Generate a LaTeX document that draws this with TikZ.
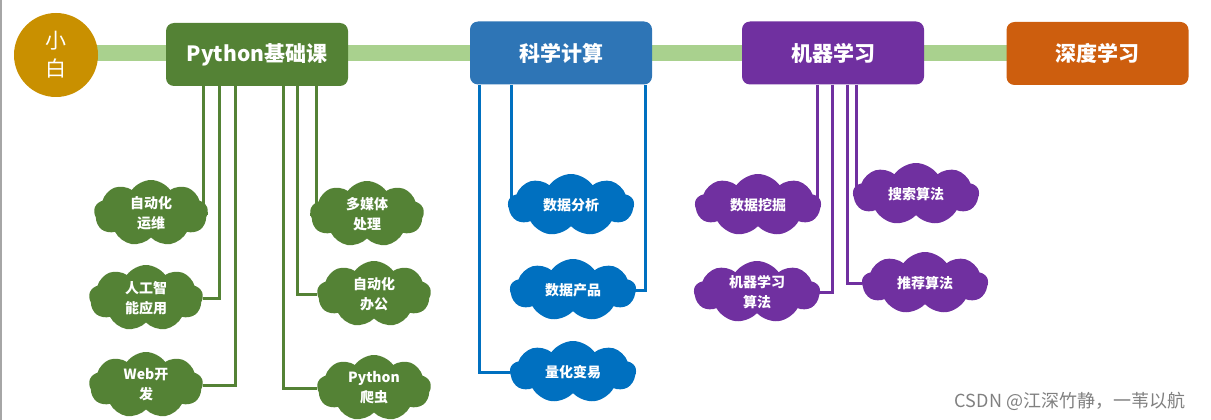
\documentclass[tikz,border=0pt]{standalone}
\usepackage{fontspec}
\setmainfont{Noto Sans CJK SC}
\usetikzlibrary{shapes}
\usetikzlibrary{shapes.symbols}
\usetikzlibrary{backgrounds}
\definecolor{c_gold}{RGB}{201,144,0}
\definecolor{c_bar}{RGB}{169,209,142}
\definecolor{c_green}{RGB}{84,130,53}
\definecolor{c_blue}{RGB}{46,117,182}
\definecolor{c_cblue}{RGB}{0,112,192}
\definecolor{c_purple}{RGB}{112,48,160}
\definecolor{c_orange}{RGB}{205,94,14}
\tikzset{
	basenode/.style = {
		align=center,
		inner sep=0pt,
		text=white
	},
	node_start/.style = {
		basenode,
		circle,
		fill=c_gold,
		minimum size=84pt,
		font=\fontsize{21}{28}\selectfont
	},
	node_main/.style = {
		basenode,
		rectangle,
		rounded corners=8pt,
		minimum width=182pt,
		minimum height=63pt,
		font=\bfseries\fontsize{21}{24}\selectfont
	},
	node_cloud/.style = {
		basenode,
		cloud,
		cloud puffs=9,
		cloud puff arc=110,
		cloud ignores aspect,
		minimum width=114pt,
		minimum height=66pt,
		font=\bfseries\fontsize{14}{20}\selectfont
	},
	node_cloud_g/.style = {
		node_cloud,
		fill=c_green
	},
	node_cloud_b/.style = {
		node_cloud,
		fill=c_cblue,
		minimum width=126pt,
		minimum height=62pt
	},
	node_cloud_p/.style = {
		node_cloud,
		fill=c_purple,
		minimum width=126pt,
		minimum height=62pt
	},
	line_g/.style = {draw=c_green, line width=3pt},
	line_b/.style = {draw=c_cblue, line width=3pt},
	line_p/.style = {draw=c_purple, line width=3pt},
	bar/.style = {draw=c_bar, line width=16pt}
}
\begin{document}
\begin{tikzpicture}[x=1pt, y=-1pt]
\useasboundingbox (0,0) rectangle (1211,420);
\draw[gray!70, line width=2pt] (1,0) -- (1,420);
\node [node_start] (xb) at (56,55) {小\\白};
\node [node_main, fill=c_green] (py) at (257,54.5) {Python基础课};
\node [node_main, fill=c_blue] (kx) at (561,53) {科学计算};
\node [node_main, fill=c_purple] (jq) at (833,53) {机器学习};
\node [node_main, fill=c_orange] (sd) at (1097.5,53.5) {深度学习};

\node [node_cloud_g] (c_yw) at (151,213) {自动化\\运维};
\node [node_cloud_g] (c_ai) at (146,298) {人工智\\能应用};
\node [node_cloud_g] (c_web) at (146,385) {Web开\\发};
\node [node_cloud_g] (c_mm) at (367,214) {多媒体\\处理};
\node [node_cloud_g] (c_bg) at (374,294) {自动化\\办公};
\node [node_cloud_g] (c_pc) at (374,388) {Python\\爬虫};

\node [node_cloud_b] (c_fx) at (571,205) {数据分析};
\node [node_cloud_b] (c_cp) at (573,290) {数据产品};
\node [node_cloud_b] (c_lh) at (573,372) {量化变易};

\node [node_cloud_p] (c_wj) at (758,205) {数据挖掘};
\node [node_cloud_p] (c_ml) at (757,292) {机器学习\\算法};
\node [node_cloud_p] (c_ss) at (916,194) {搜索算法};
\node [node_cloud_p] (c_tj) at (925,283) {推荐算法};

\node [text=gray, font=\fontsize{18}{20}\selectfont] (wm) at (1070,401) {CSDN @江深竹静，一苇以航};

\begin{pgfonlayer}{background}
\draw[bar] (xb.center |- sd.center) -- (sd.center);
\draw[line_g] ([xshift=-54pt]py.south) |- (c_yw.east);
\draw[line_g] ([xshift=-38pt]py.south) |- (c_ai.east);
\draw[line_g] ([xshift=-22pt]py.south) |- (c_web.east);
\draw[line_g] ([xshift=26pt]py.south) |- (c_pc.west);
\draw[line_g] ([xshift=40pt]py.south) |- (c_bg.west);
\draw[line_g] ([xshift=59pt]py.south) |- (c_mm.west);
\draw[line_b] ([xshift=-82pt]kx.south) |- (c_lh.west);
\draw[line_b] ([xshift=-50pt]kx.south) |- (c_fx.west);
\draw[line_b] ([xshift=84pt]kx.south) |- (c_cp.east);
\draw[line_p] ([xshift=-16pt]jq.south) |- (c_wj.east);
\draw[line_p] ([xshift=-1pt]jq.south) |- (c_ml.east);
\draw[line_p] ([xshift=14pt]jq.south) |- (c_tj.west);
\draw[line_p] ([xshift=23pt]jq.south) |- (c_ss.west);
\end{pgfonlayer}
\end{tikzpicture}
\end{document}
